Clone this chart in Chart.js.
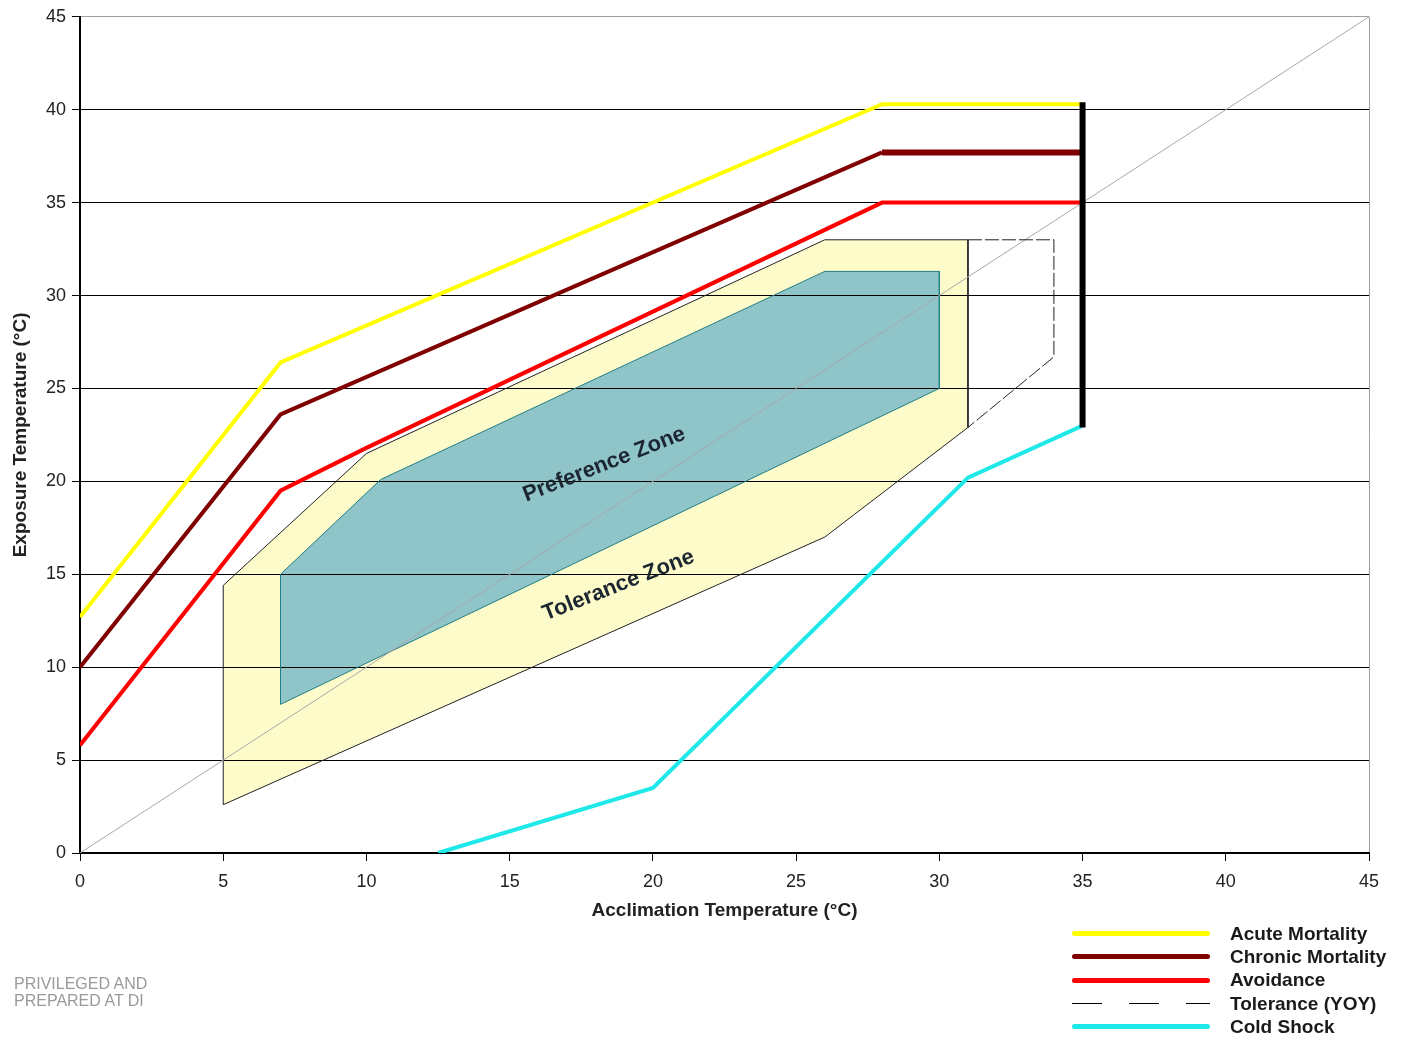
<!DOCTYPE html>
<html>
<head>
<meta charset="utf-8">
<script src="https://cdn.jsdelivr.net/npm/chart.js@4.4.1/dist/chart.umd.min.js"></script>
<style>
    html, body { margin: 0; padding: 0; background: #fff; }
    body { width: 1403px; height: 1040px; position: relative; overflow: hidden; font-family: "Liberation Sans", Arial, sans-serif; }
    #wrap { position: absolute; left: 0; top: 0; width: 1403px; height: 1040px; }
    #legend { position: absolute; left: 1072px; top: 922px; }
    .legend-row { height: 23.3px; display: flex; align-items: center; }
    .legend-line { width: 138px; margin-right: 20px; border-radius: 3px; }
    .legend-label { font-weight: bold; font-size: 19px; color: #1a1a1a; white-space: nowrap; }
    #stamp { position: absolute; left: 14px; top: 975px; font-size: 16px; line-height: 17px; color: #9a9a9a; }
</style>
</head>
<body>
<div id="wrap"><canvas id="chart" width="1403" height="1040"></canvas></div>
<div id="legend"></div>
<div id="stamp">PRIVILEGED AND<br>PREPARED AT DI</div>
<script>
// === DATA (acclimation °C -> exposure °C) ===
const acuteX = [0, 7, 28, 35];
const acuteY = [12.7, 26.4, 40.3, 40.3];

const chronicX = [0, 7, 28, 35];
const chronicY = [10, 23.6, 37.7, 37.7];

const avoidX = [0, 7, 10, 28, 35];
const avoidY = [5.8, 19.5, 21.8, 35, 35];

const coldX = [12.5, 20, 31, 35];
const coldY = [0, 3.5, 20.2, 23];

const yoyX = [31, 34, 34, 31];
const yoyY = [33, 33, 26.7, 22.9];

const tolX = [5, 10, 26, 31, 31, 26, 5, 5];
const tolY = [14.4, 21.5, 33, 33, 22.9, 17, 2.6, 14.4];

const prefX = [7, 10.5, 26, 30, 30, 7, 7];
const prefY = [15, 20.1, 31.3, 31.3, 25, 8, 15];

const limitX = [35, 35];
const limitY = [22.9, 40.4];

const diagX = [0, 45];
const diagY = [0, 45];

const xTicks = [0, 5, 10, 15, 20, 25, 30, 35, 40, 45];
const yTicks = [0, 5, 10, 15, 20, 25, 30, 35, 40, 45];

const zoneNames = ['Preference Zone', 'Tolerance Zone'];
const zoneAtX = [18.3, 18.8];
const zoneAtY = [20.9, 14.4];

const legendNames = ['Acute Mortality', 'Chronic Mortality', 'Avoidance', 'Tolerance (YOY)', 'Cold Shock'];
const legendColors = ['#ffff00', '#800000', '#ff0000', '#000000', '#1ee8e8'];

const FONT = '"Liberation Sans", Arial, sans-serif';

function pts(xs, ys) {
    return xs.map((x, i) => ({ x: x, y: ys[i] }));
}

function lineSet(label, xs, ys, color, width, extra) {
    return Object.assign({
        label: label,
        data: pts(xs, ys),
        borderColor: color,
        backgroundColor: color,
        borderWidth: width,
        pointRadius: 0,
        tension: 0,
        fill: false,
        borderJoinStyle: 'miter'
    }, extra || {});
}

// zone captions, placed in data space via the scales
const zoneLabelPlugin = {
    id: 'zoneLabels',
    afterDatasetsDraw(chart) {
        const ctx = chart.ctx;
        const xs = chart.scales.x, ys = chart.scales.y;
        ctx.save();
        ctx.font = 'bold 22px ' + FONT;
        ctx.fillStyle = '#1c2630';
        ctx.textAlign = 'center';
        ctx.textBaseline = 'middle';
        zoneNames.forEach((name, i) => {
            ctx.save();
            ctx.translate(xs.getPixelForValue(zoneAtX[i]), ys.getPixelForValue(zoneAtY[i]));
            ctx.rotate(-21.5 * Math.PI / 180);
            ctx.fillText(name, 0, 0);
            ctx.restore();
        });
        ctx.restore();
    }
};

// first dataset is drawn on top
const datasets = [
    lineSet('Limit', limitX, limitY, '#000000', 6),
    lineSet('Acute Mortality', acuteX, acuteY, '#ffff00', 4),
    lineSet('Chronic Mortality', chronicX, chronicY, '#800000', 4, {
        segment: { borderWidth: c => (c.p0.parsed.y === c.p1.parsed.y ? 6 : 4) }
    }),
    lineSet('Avoidance', avoidX, avoidY, '#ff0000', 4),
    lineSet('Cold Shock', coldX, coldY, '#1ee8e8', 4),
    lineSet('Tolerance (YOY)', yoyX, yoyY, '#222222', 1, { borderDash: [14, 3] }),
    lineSet('Diagonal', diagX, diagY, '#a8a8a8', 1),
    lineSet('Preference Zone', prefX, prefY, '#1f7f86', 1, { fill: 'shape', backgroundColor: '#8fc4c9' }),
    lineSet('Tolerance Zone', tolX, tolY, '#222222', 1, { fill: 'shape', backgroundColor: '#fdfbc9' })
];

new Chart(document.getElementById('chart').getContext('2d'), {
    type: 'line',
    data: { datasets: datasets },
    options: {
        responsive: false,
        animation: false,
        layout: { padding: { left: 0, right: 34, top: 16, bottom: 107 } },
        plugins: {
            legend: { display: false },
            tooltip: { enabled: false },
            filler: { drawTime: 'beforeDraw' }
        },
        scales: {
            x: {
                type: 'linear',
                min: 0,
                max: 45,
                afterFit: scale => { scale.height = 80; },
                afterBuildTicks: scale => { scale.ticks = xTicks.map(v => ({ value: v })); },
                ticks: { color: '#222', font: { family: FONT, size: 18 }, padding: 10 },
                grid: {
                    drawOnChartArea: true,
                    color: c => (c.tick && c.tick.value === 45 ? '#a0a0a0' : 'rgba(0,0,0,0)'),
                    tickColor: '#000',
                    tickLength: 8
                },
                border: { color: '#000', width: 2 },
                title: {
                    display: true,
                    text: 'Acclimation Temperature (°C)',
                    color: '#222',
                    font: { family: FONT, size: 19, weight: 'bold' },
                    padding: { top: 4, bottom: 11 }
                }
            },
            y: {
                type: 'linear',
                min: 0,
                max: 45,
                afterFit: scale => { scale.width = 80; },
                afterBuildTicks: scale => { scale.ticks = yTicks.map(v => ({ value: v })); },
                ticks: { color: '#222', font: { family: FONT, size: 18 }, padding: 6 },
                grid: {
                    color: c => (c.tick && c.tick.value === 45 ? '#a0a0a0' : '#000'),
                    tickColor: '#000',
                    tickLength: 8,
                    lineWidth: 1
                },
                border: { color: '#000', width: 2 },
                title: {
                    display: true,
                    text: 'Exposure Temperature (°C)',
                    color: '#222',
                    font: { family: FONT, size: 19, weight: 'bold' },
                    padding: { top: 9, bottom: 0 }
                }
            }
        }
    },
    plugins: [zoneLabelPlugin]
});

// legend block, bottom right
const legend = document.getElementById('legend');
legendNames.forEach((name, i) => {
    const row = document.createElement('div');
    row.className = 'legend-row';
    const sample = document.createElement('div');
    sample.className = 'legend-line';
    if (name === 'Tolerance (YOY)') {
        sample.style.height = '1.5px';
        sample.style.borderRadius = '0';
        sample.style.background = 'repeating-linear-gradient(to right, #000 0 30px, transparent 30px 57px)';
    } else {
        sample.style.height = '5px';
        sample.style.background = legendColors[i];
    }
    const label = document.createElement('span');
    label.className = 'legend-label';
    label.textContent = name;
    row.appendChild(sample);
    row.appendChild(label);
    legend.appendChild(row);
});
</script>
</body>
</html>
